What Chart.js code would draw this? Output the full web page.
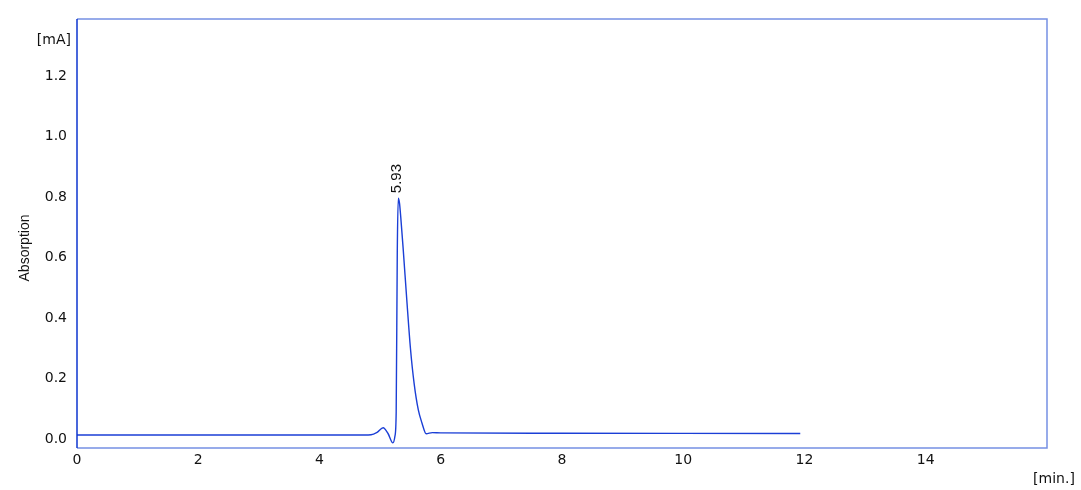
<!DOCTYPE html>
<html>
<head>
<meta charset="utf-8">
<script src="https://cdn.jsdelivr.net/npm/chart.js@4.4.1/dist/chart.umd.min.js"></script>
<style>
  html, body { margin: 0; padding: 0; background: #fff; }
  #wrap { width: 1081px; height: 490px; }
</style>
</head>
<body>
<div id="wrap"><canvas id="chromChart"></canvas></div>
<script>
/* ── Chromatogram trace (time in min, absorption in mA) ── */
const timeMin = [0, 4.60, 4.85, 4.95, 5.05, 5.13, 5.21, 5.245, 5.265, 5.283, 5.30, 5.32, 5.34, 5.38, 5.44, 5.50, 5.56, 5.63, 5.69, 5.76, 5.86, 6.0, 8.0, 11.93];
const absorb  = [0.013, 0.013, 0.014, 0.022, 0.037, 0.018, -0.013, 0.01, 0.09, 0.62, 0.797, 0.78, 0.735, 0.63, 0.46, 0.30, 0.185, 0.096, 0.053, 0.017, 0.021, 0.020, 0.019, 0.018];

const xTicks = [0, 2, 4, 6, 8, 10, 12, 14];
const yTicks = [0.0, 0.2, 0.4, 0.6, 0.8, 1.0, 1.2];

const peakTime  = 5.30;
const peakValue = 0.797;
const peakLabel = '5.93';

const AXIS_DARK  = '#0c34cf';
const FRAME_BLUE = '#7690e4';
const LINE_BLUE  = '#1b3fd6';
const TEXT       = '#111';

/* ── Frame + free texts ── */
const framePlugin = {
    id: 'frame',
    afterDraw(chart) {
        const { ctx, chartArea: a, scales } = chart;
        ctx.save();

        ctx.strokeStyle = FRAME_BLUE;
        ctx.lineWidth = 1.5;
        ctx.beginPath();
        ctx.moveTo(a.left, a.top);
        ctx.lineTo(a.right, a.top);
        ctx.lineTo(a.right, a.bottom);
        ctx.lineTo(a.left, a.bottom);
        ctx.stroke();

        ctx.strokeStyle = AXIS_DARK;
        ctx.lineWidth = 1.5;
        ctx.beginPath();
        ctx.moveTo(a.left, a.top);
        ctx.lineTo(a.left, a.bottom);
        ctx.stroke();

        ctx.fillStyle = TEXT;
        ctx.font = '14px "DejaVu Sans"';
        ctx.textBaseline = 'middle';
        ctx.textAlign = 'right';
        ctx.fillText('[mA]', 71, 40);
        ctx.textAlign = 'center';
        ctx.fillText('[min.]', 1054, 479);

        ctx.font = '14px "Liberation Sans"';
        ctx.save();
        ctx.translate(25, 248);
        ctx.rotate(-Math.PI / 2);
        ctx.fillText('Absorption', 0, 0);
        ctx.restore();

        // peak annotation
        const px = scales.x.getPixelForValue(peakTime);
        const py = scales.y.getPixelForValue(peakValue);
        ctx.font = '15px "Liberation Sans"';
        ctx.save();
        ctx.translate(px - 1, py - 5);
        ctx.rotate(-Math.PI / 2);
        ctx.textAlign = 'left';
        ctx.fillText(peakLabel, 0, 0);
        ctx.restore();

        ctx.restore();
    }
};

new Chart(document.getElementById('chromChart'), {
    type: 'line',
    data: {
        datasets: [{
            data: timeMin.map((t, i) => ({ x: t, y: absorb[i] })),
            borderColor: LINE_BLUE,
            borderWidth: 1.4,
            pointRadius: 0,
            fill: false,
            cubicInterpolationMode: 'monotone'
        }]
    },
    options: {
        responsive: true,
        maintainAspectRatio: false,
        animation: false,
        layout: { padding: { top: 19, right: 34, left: 0, bottom: 0 } },
        plugins: { legend: { display: false }, tooltip: { enabled: false } },
        scales: {
            x: {
                type: 'linear',
                min: 0, max: 16,
                afterBuildTicks: s => { s.ticks = xTicks.map(v => ({ value: v })); },
                afterFit: s => { s.height = 42; },
                grid: { display: false, drawTicks: false },
                border: { display: false },
                ticks: {
                    color: TEXT,
                    padding: 4,
                    maxRotation: 0,
                    font: { size: 14, family: 'DejaVu Sans' }
                }
            },
            y: {
                min: -0.03, max: 1.39,
                afterBuildTicks: s => { s.ticks = yTicks.map(v => ({ value: v })); },
                afterFit: s => { s.width = 77; },
                grid: { display: false, drawTicks: false },
                border: { display: false },
                ticks: {
                    color: TEXT,
                    padding: 10,
                    font: { size: 14, family: 'DejaVu Sans' },
                    callback: v => v.toFixed(1)
                }
            }
        }
    },
    plugins: [framePlugin]
});
</script>
</body>
</html>
